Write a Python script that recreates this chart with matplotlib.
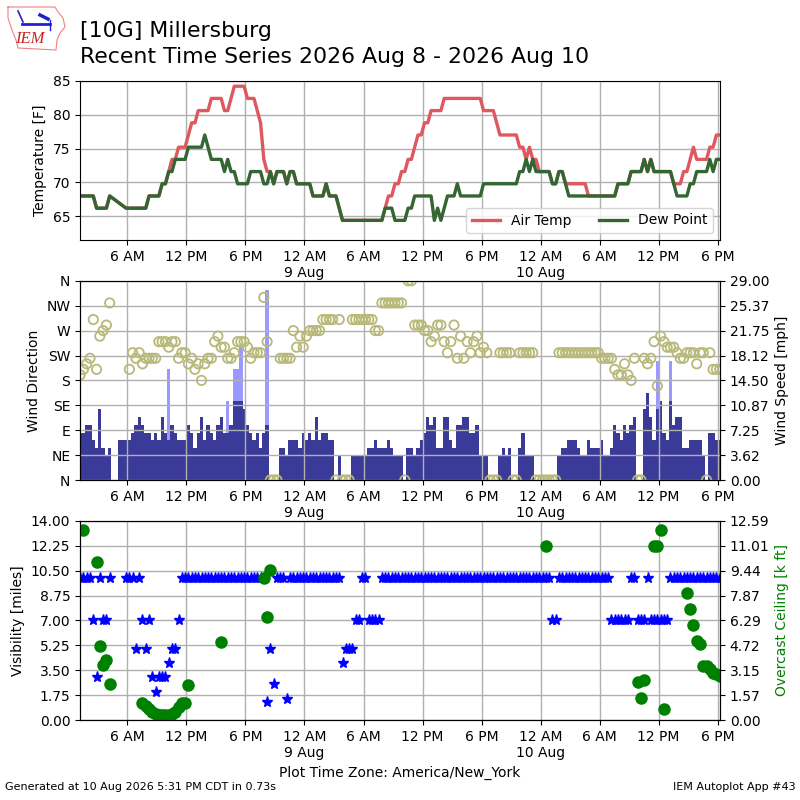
import numpy as np
import pandas as pd
import matplotlib
matplotlib.use("Agg")
import matplotlib.pyplot as plt
import matplotlib.dates as mdates
from matplotlib.ticker import FuncFormatter, FormatStrFormatter

N = None

# 20 minute AWOS obs, America/New_York local time
valid = pd.date_range("2026-08-08 01:12", periods=196, freq="20min")

# air temperature / dew point, whole deg C as reported
tmpc = [
    20, 20, 20, 20, 20, 19, 19, 19, 19, 20, N, N,
    N, N, 19, 19, 19, 19, 19, 19, 19, 20, 20, 20,
    20, 21, 21, 22, 23, 23, 24, 24, 24, 25, 26, 26,
    27, 27, 27, 27, 28, 28, 28, 28, 27, 27, 28, 29,
    29, 29, 29, 28, 28, 28, 27, 26, 23, 22, 22, 21,
    22, 22, 22, 21, 22, 22, 21, 21, 21, 21, 21, 20,
    20, 20, 20, 21, 20, 20, 20, 19, 18, 18, 18, 18,
    18, 18, 18, 18, 18, 18, 18, 18, 18, 19, 20, 20,
    21, 21, 22, 22, 23, 23, 24, 25, 25, 26, 26, 27,
    27, 27, 27, 28, 28, 28, 28, 28, 28, 28, 28, 28,
    28, 28, 28, 27, 27, 27, 27, 26, 25, 25, 25, 25,
    25, 25, 24, 24, 23, 24, 23, 23, 22, 22, 22, 22,
    21, 21, 22, 22, 21, 21, 21, 21, 21, 21, 21, 20,
    20, 20, 20, 20, 20, 20, 20, 20, 21, 21, 21, 21,
    22, 22, 22, 22, 23, 22, 23, 22, 22, 22, 22, 22,
    22, 21, 21, 21, 22, 22, 23, 24, 23, 23, 23, 23,
    24, 24, 25, 25,
]
dwpc = [
    20, 20, 20, 20, 20, 19, 19, 19, 19, 20, N, N,
    N, N, 19, 19, 19, 19, 19, 19, 19, 20, 20, 20,
    20, 21, 21, 22, 22, 23, 23, 23, 23, 24, 24, 24,
    24, 24, 25, 24, 23, 23, 23, 23, 22, 23, 22, 22,
    21, 21, 21, 21, 22, 22, 22, 22, 21, 21, 22, 21,
    22, 22, 22, 21, 22, 22, 21, 21, 21, 21, 21, 20,
    20, 20, 20, 21, 20, 20, 20, 19, 18, 18, 18, 18,
    18, 18, 18, 18, 18, 18, 18, 18, 18, 19, 19, 19,
    18, 18, 18, 18, 19, 19, 20, 20, 20, 20, 20, 20,
    18, 19, 18, 19, 20, 20, 20, 21, 20, 20, 20, 20,
    20, 20, 20, 21, 21, 21, 21, 21, 21, 21, 21, 21,
    21, 21, 22, 22, 23, 22, 23, 22, 22, 22, 22, 22,
    21, 21, 22, 22, 21, 20, 20, 20, 20, 20, 20, 20,
    20, 20, 20, 20, 20, 20, 20, 20, 21, 21, 21, 21,
    22, 22, 22, 22, 23, 22, 23, 22, 22, 22, 22, 22,
    22, 21, 20, 20, 20, 20, 21, 21, 22, 22, 22, 22,
    23, 22, 23, 23,
]

# wind speed [kt]
sknt = [
    6, 6, 7, 7, 5, 4, 9, 4, 3, 4, N, N,
    5, 5, 5, 5, 6, 7, 8, 7, 6, 6, 5, 6,
    5, 8, 6, 5, 7, 6, 5, 5, 5, 7, 6, 4,
    6, 8, 5, 7, 6, 5, 7, 8, 6, 6, 7, 10,
    10, 10, 9, 7, 6, 5, 6, 4, 6, 7, 0, 0,
    0, 4, 4, 3, 5, 5, 5, 4, 6, 5, 6, 5,
    8, 5, 6, 6, 5, 5, 0, 3, 0, 0, 0, 3,
    3, 3, 3, 3, 4, 4, 5, 4, 4, 4, 5, 4,
    3, 3, 3, 0, 4, 4, 3, 4, 5, 6, 8, 7,
    8, 4, 4, 8, 8, 5, 4, 7, 7, 8, 8, 6,
    6, 7, 3, 3, 3, 0, 0, 0, 3, 4, 3, 4,
    0, 0, 4, 6, 3, 3, 3, 0, 0, 0, 0, 0,
    0, 0, 3, 4, 4, 5, 5, 5, 4, 3, 3, 5,
    4, 4, 4, 5, 3, 3, 4, 7, 6, 5, 7, 6,
    7, 8, 0, 0, 9, 11, 8, 5, 9, 10, 6, 5,
    10, 7, 8, 8, 4, 4, 5, 5, 5, 5, 3, 0,
    6, 6, 5, 5,
]
# gusts [kt], only a few reported
gust_obs = [27, 45, 47, 48, 49, 57, 176, 180]
gust_kt = [14, 10, 14, 14, 17, 24, 15, 15]

# wind direction [deg]
drct = [
    190, 200, 210, 220, 290, 200, 260, 270, 280, 320, N, N,
    N, N, N, 200, 230, 220, 230, 210, 220, 220, 220, 220,
    250, 250, 250, 240, 250, 250, 220, 230, 230, 210, 220, 200,
    210, 180, 210, 220, 220, 250, 260, 240, 240, 220, 220, 230,
    250, 250, 250, 240, 220, 230, 230, 230, 330, 250, 0, 0,
    0, 220, 220, 220, 220, 270, 240, 260, 240, 260, 270, 270,
    270, 270, 290, 290, 290, 290, 0, 290, 0, 0, 0, 290,
    290, 290, 290, 290, 290, 290, 270, 270, 320, 320, 320, 320,
    320, 320, 320, 0, 360, 360, 280, 280, 280, 270, 270, 250,
    260, 280, 280, 250, 230, 250, 280, 220, 260, 220, 250, 230,
    250, 260, 230, 240, 230, 0, 0, 0, 230, 230, 230, 230,
    0, 0, 230, 230, 230, 230, 230, 0, 0, 0, 0, 0,
    0, 0, 230, 230, 230, 230, 230, 230, 230, 230, 230, 230,
    230, 230, 230, 220, 220, 220, 220, 200, 190, 190, 210, 190,
    180, 220, 0, 0, 220, 210, 220, 250, 170, 260, 250, 240,
    240, 240, 230, 220, 220, 230, 230, 230, 210, 230, 230, 0,
    230, 200, 200, 200,
]

# visibility [miles]
vsby = [
    10, 10, 10, 10, 7, 3, 10, 7, 7, 10, N, N,
    N, N, 10, 10, 10, 5, 10, 7, 5, 7, 3, 2,
    3, 3, 3, 4, 5, 5, 7, 10, 10, 10, 10, 10,
    10, 10, 10, 10, 10, 10, 10, 10, 10, 10, 10, 10,
    10, 10, 10, 10, 10, 10, 10, 10, 10, 1.25, 5, 2.5,
    10, 10, 10, 1.5, 10, 10, 10, 10, 10, 10, 10, 10,
    10, 10, 10, 10, 10, 10, 10, 10, 4, 5, 5, 5,
    7, 7, 10, 10, 7, 7, 7, 7, 10, 10, 10, 10,
    10, 10, 10, 10, 10, 10, 10, 10, 10, 10, 10, 10,
    10, 10, 10, 10, 10, 10, 10, 10, 10, 10, 10, 10,
    10, 10, 10, 10, 10, 10, 10, 10, 10, 10, 10, 10,
    10, 10, 10, 10, 10, 10, 10, 10, 10, 10, 10, 10,
    7, 7, 10, 10, 10, 10, 10, 10, 10, 10, 10, 10,
    10, 10, 10, 10, 10, 10, 7, 7, 7, 7, 7, 7,
    10, 10, 7, 7, 7, 10, 7, 7, 7, 7, 7, 7,
    10, 10, 10, 10, 10, 10, 10, 10, 10, 10, 10, 10,
    10, 10, 10, 10,
]

# overcast ceiling [k ft]
ceil_kft = [
    N, 12.0, N, N, N, 10.0, 4.7, 3.5, 3.8, 2.3, N, N,
    N, N, N, N, N, N, N, 1.1, 0.9, 0.7, 0.5, 0.4,
    0.3, 0.3, 0.3, 0.3, 0.4, 0.5, 0.8, 1.1, 1.1, 2.2, N, N,
    N, N, N, N, N, N, N, 4.9, N, N, N, N,
    N, N, N, N, N, N, N, N, 9.0, 6.5, 9.5, N,
    N, N, N, N, N, N, N, N, N, N, N, N,
    N, N, N, N, N, N, N, N, N, N, N, N,
    N, N, N, N, N, N, N, N, N, N, N, N,
    N, N, N, N, N, N, N, N, N, N, N, N,
    N, N, N, N, N, N, N, N, N, N, N, N,
    N, N, N, N, N, N, N, N, N, N, N, N,
    N, N, N, N, N, N, N, N, N, N, 11.0, N,
    N, N, N, N, N, N, N, N, N, N, N, N,
    N, N, N, N, N, N, N, N, N, N, N, N,
    N, N, 2.4, 1.4, 2.5, N, N, 11.0, 11.0, 12.0, 0.7, N,
    N, N, N, N, N, 8.0, 7.0, 6.0, 5.0, 4.8, 3.4, 3.4,
    3.2, 3.0, 2.9, 2.8,
]

x = mdates.date2num(valid.to_pydatetime())
tmpf = np.array(tmpc, dtype=float) * 9.0 / 5.0 + 32.0
dwpf = np.array(dwpc, dtype=float) * 9.0 / 5.0 + 32.0
smph = np.array(sknt, dtype=float) * 1.15078
gmph = np.array(gust_kt, dtype=float) * 1.15078
drct = np.array(drct, dtype=float)
vsby = np.array(vsby, dtype=float)
ceil_kft = np.array(ceil_kft, dtype=float)


def timefmt(val, pos):
    d = mdates.num2date(val)
    if d.hour == 0:
        return "12 AM\n%d Aug" % d.day
    return "%d %s" % (d.hour % 12 or 12, "AM" if d.hour < 12 else "PM")


def xsetup(ax):
    ax.set_xlim(x[0] - 1.0 / 1440, x[-1] + 2.0 / 1440)
    ax.xaxis.set_major_locator(mdates.HourLocator(byhour=[0, 6, 12, 18]))
    ax.xaxis.set_major_formatter(FuncFormatter(timefmt))
    ax.grid(True, color="#b0b0b0", lw=1)
    ax.set_axisbelow(True)


fig = plt.figure(figsize=(8, 8), dpi=100)

fig.text(0.1, 0.9534, "[10G] Millersburg", fontsize=15.8)
fig.text(0.1, 0.9213, "Recent Time Series 2026 Aug 8 - 2026 Aug 10", fontsize=15.8)

# rough IEM logo: state outline, station symbol, letters
logo = fig.add_axes([0.0, 0.935, 0.09, 0.065])
logo.set_xlim(0, 72)
logo.set_ylim(52, 0)
logo.axis("off")
logo.plot([8, 55, 58, 63, 65, 60, 57, 56, 18, 16, 12, 8, 8],
          [7, 7, 12, 18, 27, 33, 40, 50, 48, 40, 30, 18, 7],
          color="#f08080", lw=0.8)
logo.plot([22, 50], [24, 24], color="#2222cc", lw=2)
logo.plot([18, 23], [11, 22], color="#2222cc", lw=1.2)
logo.plot([40, 48], [15, 19], color="#2222cc", lw=2.5)
logo.plot([50, 50], [20, 30], color="#2222cc", lw=1)
logo.text(30, 43, "IEM", color="#cc2222", fontsize=12, style="italic",
          family="Liberation Serif", ha="center")

# temperature
ax1 = fig.add_axes([0.1, 0.7, 0.8, 0.199])
ok = ~np.isnan(tmpf)
ax1.plot(x[ok], tmpf[ok], color="#e0585f", lw=2.4, label="Air Temp")
ok = ~np.isnan(dwpf)
ax1.plot(x[ok], dwpf[ok], color="#336633", lw=2.4, label="Dew Point")
ax1.set_ylim(61.5, 85)
ax1.set_yticks([65, 70, 75, 80, 85])
ax1.set_ylabel("Temperature [F]")
xsetup(ax1)
ax1.legend(loc="lower right", ncol=2)

# wind
ax2 = fig.add_axes([0.1, 0.4, 0.8, 0.249])
ax2b = ax2.twinx()
ax2b.bar(x[gust_obs], gmph, width=1.0 / 72, color="#9999ff")
ax2b.bar(x, smph, width=1.0 / 72, color="#3a3a98")
ax2.scatter(x, drct, s=45, facecolors="none", edgecolors="#b8b878", lw=1.3)
ax2.set_zorder(ax2b.get_zorder() + 1)
ax2.patch.set_visible(False)
ax2.set_ylim(0, 360)
ax2.set_yticks(range(0, 361, 45))
ax2.set_yticklabels(["N", "NE", "E", "SE", "S", "SW", "W", "NW", "N"])
ax2.set_ylabel("Wind Direction")
ax2b.set_ylim(0, 28.998)
ax2b.set_yticks(np.linspace(0, 28.998, 9))
ax2b.yaxis.set_major_formatter(FormatStrFormatter("%.2f"))
ax2b.set_ylabel("Wind Speed [mph]")
xsetup(ax2)

# visibility and ceiling
ax3 = fig.add_axes([0.1, 0.1, 0.8, 0.249])
ax3.plot(x, vsby, "*", color="b", ms=8, ls="none")
ax3.set_ylim(0, 14)
ax3.set_yticks(np.linspace(0, 14, 9))
ax3.yaxis.set_major_formatter(FormatStrFormatter("%.2f"))
ax3.set_ylabel("Visibility [miles]")
ax3.set_xlabel("Plot Time Zone: America/New_York")
xsetup(ax3)
ax3b = ax3.twinx()
ax3b.plot(x, ceil_kft, "o", color="g", ms=8, ls="none")
ax3b.set_ylim(0, 12.587)
ax3b.set_yticks(np.linspace(0, 12.587, 9))
ax3b.yaxis.set_major_formatter(FormatStrFormatter("%.2f"))
ax3b.set_ylabel("Overcast Ceiling [k ft]", color="g")
ax3b.set_xlim(ax3.get_xlim())

fig.text(0.006, 0.012, "Generated at 10 Aug 2026 5:31 PM CDT in 0.73s", fontsize=8)
fig.text(0.994, 0.012, "IEM Autoplot App #43", fontsize=8, ha="right")

fig.savefig("out.png", dpi=100)
